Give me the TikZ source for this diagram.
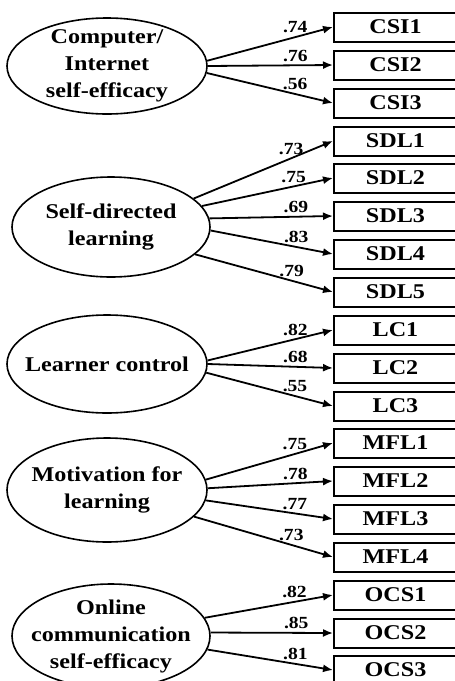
\documentclass[tikz,border=0pt]{standalone}
\usepackage{fontspec}
\setmainfont{Liberation Serif}[FakeStretch=1.15]
\usetikzlibrary{shapes.geometric,arrows.meta}

\begin{document}
\begin{tikzpicture}[x=0.5pt,y=-0.5pt,
    factor/.style={draw,ellipse,line width=0.8pt,inner sep=0pt},
    fname/.style={align=center,font=\fontsize{10.5}{13.5}\selectfont\bfseries},
    item/.style={draw,line width=1pt,minimum width=61.5pt,minimum height=14.5pt,
      inner sep=0pt,font=\fontsize{10.5}{12}\selectfont\bfseries},
    load/.style={line width=0.9pt,-{Latex[length=5pt,width=4pt]}},
    coef/.style={above,pos=0.7,inner sep=1.5pt,font=\fontsize{8.5}{9}\selectfont\bfseries}]
      \useasboundingbox (0,0) rectangle (455,681);
      \clip (0,0) rectangle (455,681);
      % latent factors
      \node[factor,minimum width=100pt,minimum height=48pt] (cse) at (107,66) {};
      \node[fname] at (107,66) {Computer/\\Internet\\self-efficacy};
      \node[factor,minimum width=99pt,minimum height=50pt] (sdl) at (111,227) {};
      \node[fname] at (111,227) {Self-directed\\learning};
      \node[factor,minimum width=100pt,minimum height=49pt] (lc) at (107,364) {};
      \node[fname] at (107,364) {Learner control};
      \node[factor,minimum width=100pt,minimum height=52pt] (mfl) at (107,490) {};
      \node[fname] at (107,490) {Motivation for\\learning};
      \node[factor,minimum width=99pt,minimum height=52pt] (ocs) at (111,636) {};
      \node[fname] at (111,636) {Online\\communication\\self-efficacy};
      % indicators
      \node[item] (csi1) at (395.5,27) {CSI1};
      \node[item] (csi2) at (395.5,65) {CSI2};
      \node[item] (csi3) at (395.5,103) {CSI3};
      \node[item] (sdl1) at (395.5,141) {SDL1};
      \node[item] (sdl2) at (395.5,178) {SDL2};
      \node[item] (sdl3) at (395.5,216) {SDL3};
      \node[item] (sdl4) at (395.5,254) {SDL4};
      \node[item] (sdl5) at (395.5,292) {SDL5};
      \node[item] (lc1) at (395.5,330) {LC1};
      \node[item] (lc2) at (395.5,368) {LC2};
      \node[item] (lc3) at (395.5,406) {LC3};
      \node[item] (mfl1) at (395.5,443) {MFL1};
      \node[item] (mfl2) at (395.5,481) {MFL2};
      \node[item] (mfl3) at (395.5,519) {MFL3};
      \node[item] (mfl4) at (395.5,557) {MFL4};
      \node[item] (ocs1) at (395.5,595) {OCS1};
      \node[item] (ocs2) at (395.5,633) {OCS2};
      \node[item] (ocs3) at (395.5,670) {OCS3};
      % loadings
      \draw[load] (cse.3) -- node[coef] {.74} (csi1.west);
      \draw[load] (cse.0) -- node[coef] {.76} (csi2.west);
      \draw[load] (cse.-4) -- node[coef] {.56} (csi3.west);
      \draw[load] (sdl.19) -- node[coef] {.73} (sdl1.west);
      \draw[load] (sdl.13) -- node[coef] {.75} (sdl2.west);
      \draw[load] (sdl.5) -- node[coef] {.69} (sdl3.west);
      \draw[load] (sdl.-2) -- node[coef] {.83} (sdl4.west);
      \draw[load] (sdl.-18) -- node[coef] {.79} (sdl5.west);
      \draw[load] (lc.2) -- node[coef] {.82} (lc1.west);
      \draw[load] (lc.0) -- node[coef] {.68} (lc2.west);
      \draw[load] (lc.-5) -- node[coef] {.55} (lc3.west);
      \draw[load] (mfl.6) -- node[coef] {.75} (mfl1.west);
      \draw[load] (mfl.1) -- node[coef] {.78} (mfl2.west);
      \draw[load] (mfl.-6) -- node[coef] {.77} (mfl3.west);
      \draw[load] (mfl.-17) -- node[coef] {.73} (mfl4.west);
      \draw[load] (ocs.11) -- node[coef] {.82} (ocs1.west);
      \draw[load] (ocs.2) -- node[coef] {.85} (ocs2.west);
      \draw[load] (ocs.-8) -- node[coef] {.81} (ocs3.west);
\end{tikzpicture}
\end{document}
